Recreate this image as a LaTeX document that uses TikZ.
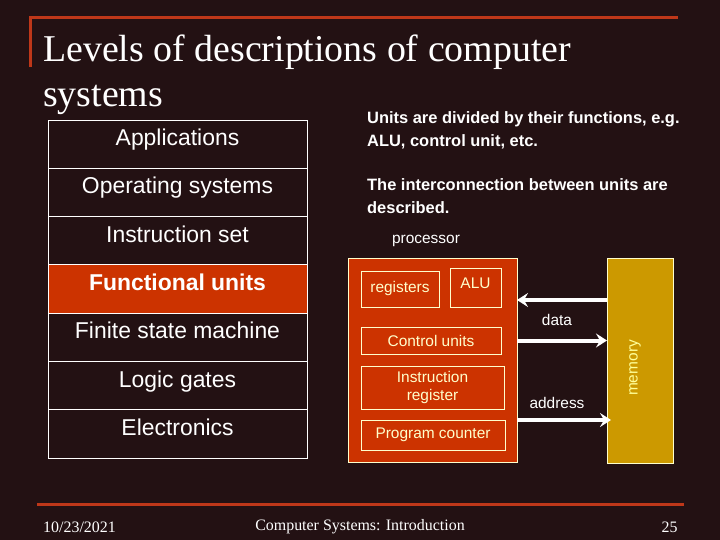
\documentclass[tikz,border=0pt]{standalone}
\usepackage{fontspec}
\setmainfont{Liberation Serif}
\setsansfont{Liberation Sans}
\usetikzlibrary{arrows.meta,positioning}
\definecolor{slidebg}{RGB}{35,17,19}
\definecolor{rustred}{RGB}{204,51,0}
\definecolor{rulered}{RGB}{190,55,25}
\definecolor{gold}{RGB}{204,153,0}
\definecolor{cream}{RGB}{255,255,204}
\definecolor{paleyellow}{RGB}{255,255,153}
\tikzset{
  level/.style={draw=white, line width=0.8bp, minimum width=259bp, minimum height=48.3bp, inner sep=0pt, outer sep=0pt, text=white, font=\sffamily\fontsize{23}{27}\selectfont, text height=17bp, text depth=14bp},
  unit/.style={draw=cream, line width=0.8bp, inner sep=0pt, outer sep=0pt, text=cream, align=center, font=\sffamily\fontsize{15.5}{19}\selectfont},
  bus/.style={white, line width=4bp, -{Stealth[length=11bp,width=14bp,inset=4bp]}},
  note/.style={text=white, align=left, anchor=west, inner sep=0pt, font=\sffamily\bfseries\fontsize{16.5}{23}\selectfont},
  plain/.style={text=white, inner sep=0pt, font=\sffamily\fontsize{15.5}{19}\selectfont},
  foot/.style={text=white, inner sep=0pt, font=\fontsize{16}{18}\selectfont}
}
\begin{document}
\begin{tikzpicture}[x=1bp, y=-1bp, node distance=48.3bp]
\useasboundingbox[fill=slidebg] (0,0) rectangle (720,540);
\draw[rulered, line width=3bp] (30,67) -- (30,18) -- (678,18);
\draw[rulered, line width=3bp] (37,504) -- (684,504);
\node[anchor=base west, inner sep=0pt, text=white, font=\fontsize{38}{45}\selectfont] (title) at (43,62) {Levels of descriptions of computer};
\node[anchor=base west, inner sep=0pt, text=white, font=\fontsize{38}{45}\selectfont] (titlerest) at (43,107) {systems};
\node[level] (apps) at (177.5,144.1) {Applications};
\node[level, below of=apps] (os) {Operating systems};
\node[level, below of=os] (isa) {Instruction set};
\node[level, below of=isa, fill=rustred, font=\sffamily\bfseries\fontsize{23}{27}\selectfont] (func) {Functional units};
\node[level, below of=func] (fsm) {Finite state machine};
\node[level, below of=fsm] (gates) {Logic gates};
\node[level, below of=gates] (elec) {Electronics};
\node[note] (divided) at (367,130.5) {Units are divided by their functions, e.g.\\ALU, control unit, etc.};
\node[note] (interconn) at (367,196) {The interconnection between units are\\described.};
\node[plain] (proclabel) at (426,241) {processor};
\node[unit, fill=rustred, minimum width=169bp, minimum height=204bp] (proc) at (432.5,360) {};
\node[unit, minimum width=78bp, minimum height=36bp] (regs) at (400,289) {registers};
\node[unit, minimum width=51bp, minimum height=39bp, text depth=9bp] (alu) at (475.5,287.5) {ALU};
\node[unit, minimum width=140bp, minimum height=27bp] (ctrl) at (431,340.5) {Control units};
\node[unit, minimum width=143bp, minimum height=43bp] (ir) at (432.5,387.5) {Instruction\\register};
\node[unit, minimum width=144bp, minimum height=30bp] (pc) at (433,435) {Program counter};
\node[unit, fill=gold, minimum width=66bp, minimum height=205bp] (mem) at (640,360.5) {};
\node[plain, text=paleyellow, rotate=90] (memlabel) at (635,368) {memory};
\node[plain] (datalabel) at (557,320) {data};
\node[plain] (addrlabel) at (557,403) {address};
\draw[bus] (mem.west |- 0,300) -- (proc.east |- 0,300);
\draw[bus] (proc.east |- ctrl) -- (mem.west |- ctrl);
\draw[bus, shorten >=-4bp] (proc.east |- pc.north) -- (mem.west |- pc.north);
\node[foot] (date) at (79.5,527) {10/23/2021};
\node[foot] (course) at (360,527) {Computer Systems: Introduction};
\node[foot] (page) at (669.5,527) {25};
\end{tikzpicture}
\end{document}
